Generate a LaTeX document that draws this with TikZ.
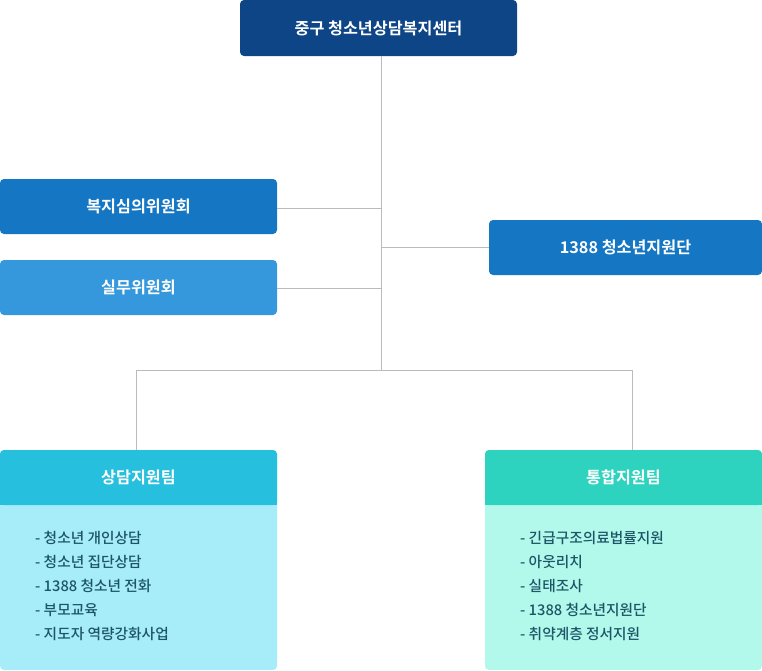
\documentclass[tikz,border=0pt]{standalone}
\usepackage{fontspec}
\setmainfont{Noto Sans CJK KR}
\newfontfamily\krb{Noto Sans CJK KR Bold}
\newfontfamily\krm{Noto Sans CJK KR Medium}
\usetikzlibrary{positioning}
\definecolor{topc}{HTML}{0E4586}
\definecolor{bluea}{HTML}{1577C3}
\definecolor{blueb}{HTML}{3598DC}
\definecolor{cyanh}{HTML}{26C0DE}
\definecolor{cyanb}{HTML}{A7EDF9}
\definecolor{tealh}{HTML}{2ED3BF}
\definecolor{tealb}{HTML}{B2F9EC}
\definecolor{linec}{HTML}{BBBBBB}
\definecolor{bodyt}{HTML}{1C5566}
\tikzset{
  boxn/.style={rounded corners=4pt, inner sep=0pt, text=white, font=\krb\fontsize{16.2}{19}\selectfont},
  conn/.style={draw=linec, line width=0.8pt},
  listtext/.style={anchor=north west, align=left, text=bodyt, inner sep=0pt, font=\krm\fontsize{14.7}{24}\selectfont}
}
\begin{document}
\begin{tikzpicture}[x=1pt,y=-1pt]
\useasboundingbox (0,0) rectangle (762,670);
\coordinate (j1) at (381,208);
\coordinate (j2) at (381,247);
\coordinate (j3) at (381,288);
\coordinate (j4) at (381,370);
\coordinate (jl) at (136,370);
\coordinate (jr) at (632,370);
% boxes
\fill[topc, rounded corners=4pt] (240,0) rectangle (517,56);
\node[boxn] (top) at (378.5,28) {중구 청소년상담복지센터};
\fill[bluea, rounded corners=4pt] (0,179) rectangle (277,234);
\node[boxn] (wel) at (138.5,206.5) {복지심의위원회};
\fill[blueb, rounded corners=4pt] (0,260) rectangle (277,315);
\node[boxn] (work) at (138.5,287.5) {실무위원회};
\fill[bluea, rounded corners=4pt] (489,220) rectangle (762,275);
\node[boxn] (supp) at (625.5,247.5) {1388 청소년지원단};
% bottom left
\fill[cyanb, rounded corners=4pt] (0,450) rectangle (277,670);
\fill[cyanh, rounded corners=4pt] (0,450) rectangle (277,505);
\fill[cyanh] (0,495) rectangle (277,505);
\node[boxn] (cons) at (138.5,477.5) {상담지원팀};
\node[listtext] (consl) at (35,531) {- 청소년 개인상담\\- 청소년 집단상담\\- 1388 청소년 전화\\- 부모교육\\- 지도자 역량강화사업};
% bottom right
\fill[tealb, rounded corners=4pt] (485,450) rectangle (762,670);
\fill[tealh, rounded corners=4pt] (485,450) rectangle (762,505);
\fill[tealh] (485,495) rectangle (762,505);
\node[boxn] (integ) at (623.5,477.5) {통합지원팀};
\node[listtext] (integl) at (520,531) {- 긴급구조의료법률지원\\- 아웃리치\\- 실태조사\\- 1388 청소년지원단\\- 취약계층 정서지원};
% lines
\draw[conn] (381,56) -- (j4);
\draw[conn] (277,208) -- (j1);
\draw[conn] (277,288) -- (j3);
\draw[conn] (j2) -- (489,247);
\draw[conn] (jl) -- (jr);
\draw[conn] (jl) -- (136,450);
\draw[conn] (jr) -- (632,450);
\end{tikzpicture}
\end{document}
